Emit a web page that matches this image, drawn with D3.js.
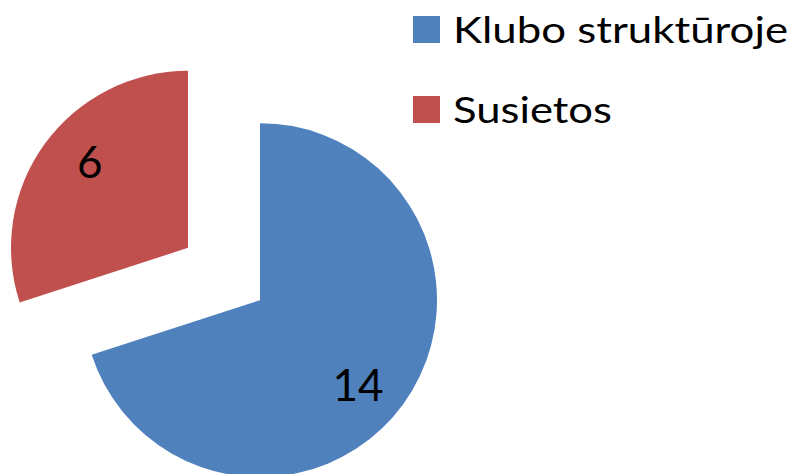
<!DOCTYPE html>
<html>
<head>
<meta charset="utf-8">
<script src="https://cdn.jsdelivr.net/npm/d3@7"></script>
<style>
  html, body { margin: 0; padding: 0; background: #fff; }
  svg { display: block; }
  text { font-family: Lato, "Open Sans", sans-serif; fill: #000; }
</style>
</head>
<body>
<svg id="chart" width="794" height="474"></svg>
<script>
const categories = ["Klubo struktūroje", "Susietos"];
const values = [14, 6];
const colors = ["#4F81BD", "#C0504D"];

const svg = d3.select("#chart");

const pieCenter = [224, 274];
const radius = 177;
const explode = 44.5;

const pie = d3.pie().sort(null).value(d => d.value);
const data = pie(categories.map((c, i) => ({ name: c, value: values[i], color: colors[i] })));

const arc = d3.arc().innerRadius(0).outerRadius(radius);

const g = svg.append("g").attr("transform", `translate(${pieCenter[0]},${pieCenter[1]})`);

const slices = g.selectAll("g.slice").data(data).enter().append("g")
  .attr("class", "slice")
  .attr("transform", d => {
    const a = (d.startAngle + d.endAngle) / 2;
    return `translate(${Math.sin(a) * explode},${-Math.cos(a) * explode})`;
  });

slices.append("path")
  .attr("d", arc)
  .attr("fill", d => d.data.color);

slices.append("text")
  .attr("transform", d => {
    const a = (d.startAngle + d.endAngle) / 2 + 5 * Math.PI / 180;
    return `translate(${Math.sin(a) * 130},${-Math.cos(a) * 130})`;
  })
  .attr("text-anchor", "middle")
  .attr("dy", "0.36em")
  .style("font-size", "44px")
  .text(d => d.data.value);

// Legend
const legend = svg.append("g").attr("transform", "translate(413,16)");
const legendWidths = [335, 159];
categories.forEach((c, i) => {
  const row = legend.append("g").attr("transform", `translate(0,${i * 80})`);
  row.append("rect").attr("width", 27).attr("height", 27).attr("fill", colors[i]);
  row.append("text")
    .attr("x", 40)
    .attr("y", 27)
    .style("font-size", "37px")
    .attr("textLength", legendWidths[i])
    .attr("lengthAdjust", "spacingAndGlyphs")
    .text(c);
});
</script>
</body>
</html>
